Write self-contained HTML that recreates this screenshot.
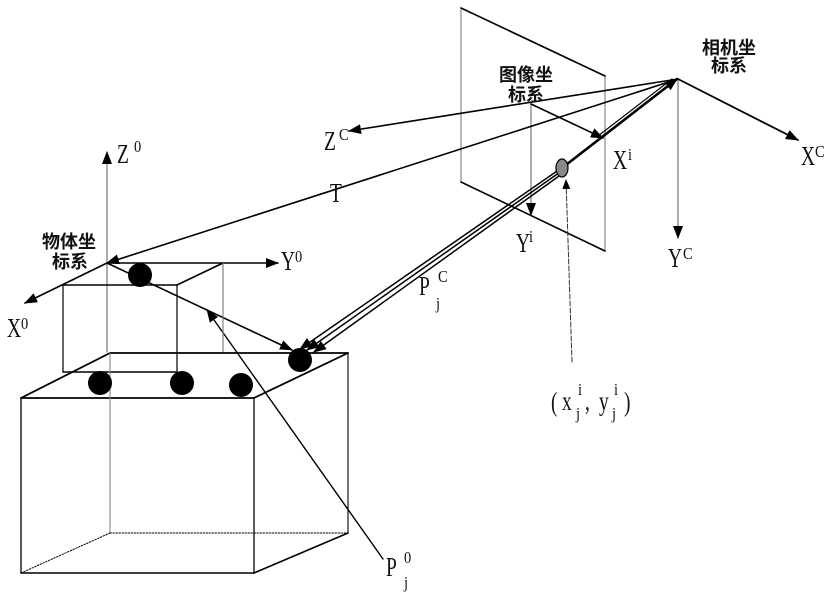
<!DOCTYPE html>
<html>
<head>
<meta charset="utf-8">
<style>
html,body{margin:0;padding:0;background:#fff;}
svg{display:block;}
.l{font-family:"Liberation Serif","Noto Serif CJK SC",serif;fill:#111;}
.c{font-family:"Liberation Sans","Noto Sans CJK SC",sans-serif;font-weight:bold;font-size:18px;fill:#111;}
</style>
</head>
<body>
<svg width="829" height="606" viewBox="0 0 829 606" xmlns="http://www.w3.org/2000/svg">
<defs>
<marker id="a" markerWidth="13" markerHeight="10" refX="12" refY="5" orient="auto" markerUnits="userSpaceOnUse">
<path d="M0,0 L13,5 L0,10 z" fill="#000"/>
</marker>
<marker id="s" markerWidth="10" markerHeight="8" refX="9" refY="4" orient="auto" markerUnits="userSpaceOnUse">
<path d="M0,0 L10,4 L0,8 z" fill="#000"/>
</marker>
</defs>
<rect width="829" height="606" fill="#fff"/>

<g stroke-linecap="round" fill="none">
<!-- Image plane -->
<line x1="461" y1="8" x2="461" y2="182" stroke="#888" stroke-width="1.2"/>
<line x1="605" y1="76" x2="605" y2="251" stroke="#888" stroke-width="1.2"/>
<line x1="461" y1="8" x2="605" y2="76" stroke="#000" stroke-width="1.6"/>
<line x1="461" y1="182" x2="605" y2="251" stroke="#000" stroke-width="1.6"/>

<!-- Image axes -->
<line x1="531" y1="104" x2="531" y2="215" stroke="#777" stroke-width="1.2" marker-end="url(#a)"/>
<line x1="531" y1="104" x2="603" y2="138" stroke="#000" stroke-width="1.6" marker-end="url(#a)"/>

<!-- Camera axes -->
<line x1="678" y1="79" x2="798" y2="140" stroke="#000" stroke-width="1.8" marker-end="url(#a)"/>
<line x1="678" y1="79" x2="678" y2="238" stroke="#777" stroke-width="1.2" marker-end="url(#a)"/>
<line x1="678" y1="79" x2="349" y2="131" stroke="#000" stroke-width="1.6" marker-end="url(#a)"/>
<!-- T -->
<line x1="678" y1="79" x2="107" y2="263" stroke="#000" stroke-width="1.6" marker-end="url(#a)"/>

<!-- Projection ray -->
<line x1="562" y1="168" x2="677" y2="79" stroke="#000" stroke-width="2.6" marker-end="url(#a)"/>
<line x1="598" y1="136" x2="672" y2="79" stroke="#000" stroke-width="1.2"/>
<line x1="560" y1="169" x2="300" y2="349" stroke="#000" stroke-width="1.5" marker-end="url(#a)"/>
<line x1="563" y1="170" x2="307" y2="350" stroke="#000" stroke-width="1.5" marker-end="url(#a)"/>
<line x1="566" y1="171" x2="314" y2="352" stroke="#000" stroke-width="1.5" marker-end="url(#a)"/>

<!-- dashed pointer to image point -->
<line x1="572" y1="362" x2="566" y2="180" stroke="#333" stroke-width="1" stroke-dasharray="5,2" marker-end="url(#s)"/>

<!-- Object axes -->
<line x1="107" y1="352" x2="107" y2="152" stroke="#777" stroke-width="1.2" marker-end="url(#a)"/>
<line x1="107" y1="263" x2="278" y2="263" stroke="#000" stroke-width="1.6" marker-end="url(#a)"/>
<line x1="107" y1="263" x2="25" y2="303" stroke="#000" stroke-width="1.6" marker-end="url(#a)"/>
<line x1="107" y1="263" x2="292" y2="350" stroke="#000" stroke-width="1.6" marker-end="url(#a)"/>
<line x1="383" y1="559" x2="207" y2="310" stroke="#000" stroke-width="1.4" marker-end="url(#a)"/>

<!-- Small box -->
<line x1="223" y1="263" x2="177" y2="285" stroke="#000" stroke-width="1.6"/>
<line x1="177" y1="285" x2="63" y2="285" stroke="#000" stroke-width="1.6"/>
<line x1="63" y1="285" x2="63" y2="372" stroke="#000" stroke-width="1.2"/>
<line x1="177" y1="285" x2="177" y2="372" stroke="#000" stroke-width="1.2"/>
<line x1="63" y1="372" x2="177" y2="372" stroke="#000" stroke-width="1.6"/>
<line x1="223" y1="263" x2="223" y2="352" stroke="#777" stroke-width="1.1"/>

<!-- Big box -->
<line x1="110" y1="353" x2="348" y2="353" stroke="#000" stroke-width="1.8"/>
<line x1="348" y1="353" x2="254" y2="398" stroke="#000" stroke-width="1.8"/>
<line x1="254" y1="398" x2="21" y2="398" stroke="#000" stroke-width="1.8"/>
<line x1="21" y1="398" x2="110" y2="353" stroke="#000" stroke-width="1.8"/>
<line x1="21" y1="398" x2="21" y2="573" stroke="#000" stroke-width="1.3"/>
<line x1="254" y1="398" x2="254" y2="573" stroke="#000" stroke-width="1.3"/>
<line x1="21" y1="573" x2="254" y2="573" stroke="#000" stroke-width="1.6"/>
<line x1="348" y1="353" x2="348" y2="533" stroke="#000" stroke-width="1.1"/>
<line x1="348" y1="533" x2="254" y2="573" stroke="#000" stroke-width="1.6"/>
<line x1="110" y1="353" x2="110" y2="533" stroke="#888" stroke-width="1.1"/>
<line x1="110" y1="533" x2="348" y2="533" stroke="#000" stroke-width="1" stroke-dasharray="1.5,1.5"/>
<line x1="21" y1="573" x2="110" y2="533" stroke="#000" stroke-width="1" stroke-dasharray="1.5,1.5"/>
</g>

<!-- dots -->
<g fill="#000">
<circle cx="140" cy="275" r="12"/>
<circle cx="100" cy="383" r="12"/>
<circle cx="182" cy="383" r="12"/>
<circle cx="241" cy="385" r="12"/>
<circle cx="300" cy="360" r="12"/>
</g>
<ellipse cx="562" cy="168" rx="6" ry="9" fill="#888" stroke="#000" stroke-width="1.2"/>

<!-- Chinese labels -->
<text class="c" x="42" y="248">物体坐</text>
<text class="c" x="52" y="268">标系</text>
<text class="c" x="499" y="81">图像坐</text>
<text class="c" x="508" y="101">标系</text>
<text class="c" x="702" y="54">相机坐</text>
<text class="c" x="711" y="72">标系</text>

<!-- Latin labels -->
<g class="l" font-size="27">
<text transform="translate(117,163) scale(0.72,1)">Z</text>
<text transform="translate(281,270) scale(0.72,1)">Y</text>
<text transform="translate(7,337) scale(0.72,1)">X</text>
<text transform="translate(330,202) scale(0.72,1)">T</text>
<text transform="translate(324,150) scale(0.72,1)">Z</text>
<text transform="translate(613,169) scale(0.72,1)">X</text>
<text transform="translate(516,252) scale(0.72,1)">Y</text>
<text transform="translate(801,165) scale(0.72,1)">X</text>
<text transform="translate(668,267) scale(0.72,1)">Y</text>
<text transform="translate(419,295) scale(0.72,1)">P</text>
<text transform="translate(386,576) scale(0.72,1)">P</text>
<text transform="translate(551,411) scale(0.72,1)">(</text>
<text transform="translate(562,410) scale(0.72,1)">x</text>
<text transform="translate(585,410) scale(0.72,1)">,</text>
<text transform="translate(599,410) scale(0.72,1)">y</text>
<text transform="translate(624,411) scale(0.72,1)">)</text>
</g>
<g class="l" font-size="17">
<text transform="translate(134,152) scale(0.85,1)">0</text>
<text transform="translate(295,262) scale(0.85,1)">0</text>
<text transform="translate(21,329) scale(0.85,1)">0</text>
<text transform="translate(339,140) scale(0.85,1)">C</text>
<text transform="translate(628,160) scale(0.85,1)">i</text>
<text transform="translate(529,242) scale(0.85,1)">i</text>
<text transform="translate(815,157) scale(0.85,1)">C</text>
<text transform="translate(683,259) scale(0.85,1)">C</text>
<text transform="translate(438,282) scale(0.85,1)">C</text>
<text transform="translate(436,309) scale(0.85,1)">j</text>
<text transform="translate(404,563) scale(0.85,1)">0</text>
<text transform="translate(404,588) scale(0.85,1)">j</text>
<text transform="translate(578,395) scale(0.85,1)">i</text>
<text transform="translate(576,419) scale(0.85,1)">j</text>
<text transform="translate(614,395) scale(0.85,1)">i</text>
<text transform="translate(612,419) scale(0.85,1)">j</text>
</g>
</svg>
</body>
</html>
